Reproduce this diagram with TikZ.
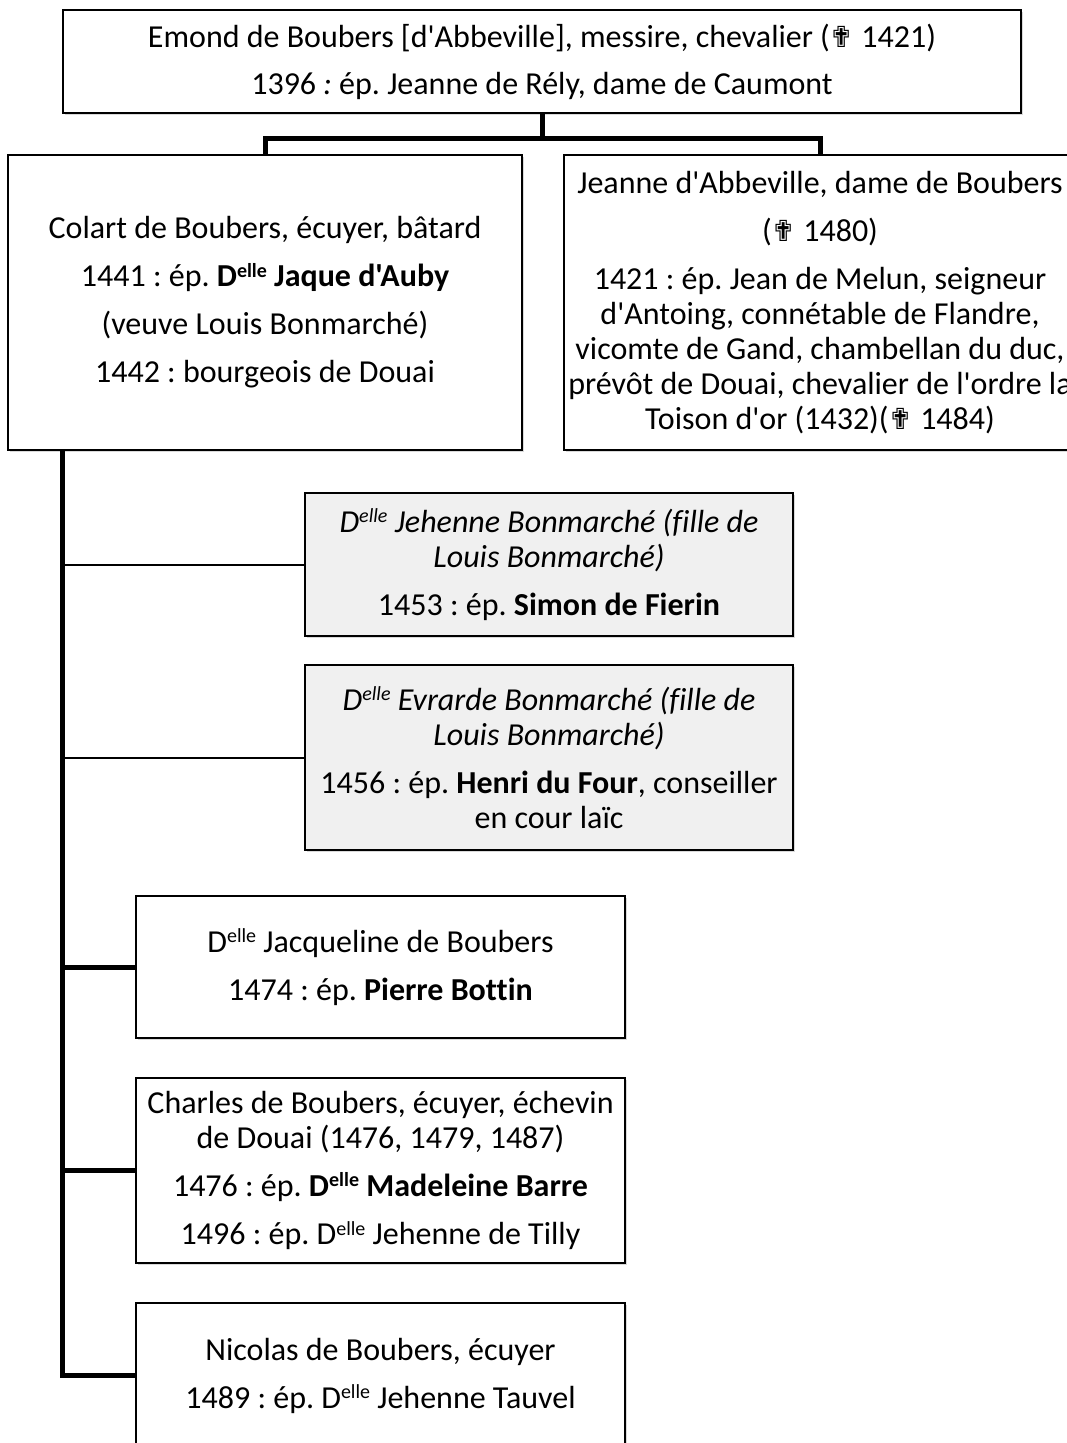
\documentclass[tikz,border=0pt]{standalone}
\usepackage{fontspec}
\usetikzlibrary{shadows}
\newfontfamily\calfont{Carlito}[Ligatures=NoCommon]
\newfontfamily\crossfont{DejaVu Sans}
\newcommand{\croix}{{\crossfont\fontsize{29}{29}\selectfont ✟}}
\newcommand{\Dl}{D\raisebox{.62ex}{\fontsize{20}{20}\selectfont elle}}
\frenchspacing
\tikzset{
  famille/.style={draw, line width=1.3pt, fill=white, align=center, inner sep=0pt,
    font=\calfont\fontsize{32}{35}\selectfont,
    drop shadow={shadow xshift=1.5pt, shadow yshift=-2pt, opacity=.3}},
  alliance/.style={famille, fill=black!6},
  lien/.style={line width=5pt},
  lienfin/.style={line width=2pt}
}
\begin{document}
\begin{tikzpicture}[x=1pt,y=-1pt]
\useasboundingbox (0,0) rectangle (1066,1443);
%boxes
\node[famille, minimum width=958pt, minimum height=103pt] (emond) at (542,61.5)
  {Emond de Boubers [d'Abbeville], messire, chevalier (\croix{} 1421)\\[12pt]
   1396\textit{ :} ép. Jeanne de Rély, dame de Caumont};
\node[famille, minimum width=514pt, minimum height=295pt] (colart) at (265,302.5)
  {Colart de Boubers, écuyer, bâtard\\[13pt]
   1441 : ép. \textbf{\Dl{} Jaque d'Auby}\\[13pt]
   (veuve Louis Bonmarché)\\[13pt]
   1442 : bourgeois de Douai};
\node[famille, minimum width=512pt, minimum height=295pt] (jeanne) at (820,302.5)
  {Jeanne d'Abbeville, dame de Boubers\\[13pt]
   (\croix{} 1480)\\[13pt]
   1421 : ép. Jean de Melun, seigneur\\
   d'Antoing, connétable de Flandre,\\
   vicomte de Gand, chambellan du duc,\\
   prévôt de Douai, chevalier de l'ordre la\\
   Toison d'or (1432)(\croix{} 1484)};
\node[alliance, minimum width=488pt, minimum height=143pt] (jehenne) at (549,564.5)
  {\textit{\Dl{} Jehenne Bonmarché (fille de}\\
   \textit{Louis Bonmarché)}\\[13pt]
   1453 : ép. \textbf{Simon de Fierin}};
\node[alliance, minimum width=488pt, minimum height=185pt] (evrarde) at (549,757.5)
  {\textit{\Dl{} Evrarde Bonmarché (fille de}\\
   \textit{Louis Bonmarché)}\\[13pt]
   1456 : ép. \textbf{Henri du Four}, conseiller\\
   en cour laïc};
\node[famille, minimum width=489pt, minimum height=142pt] (jacqueline) at (380.5,967)
  {\Dl{} Jacqueline de Boubers\\[13pt]
   1474 : ép. \textbf{Pierre Bottin}};
\node[famille, minimum width=489pt, minimum height=185pt] (charles) at (380.5,1170.5)
  {Charles de Boubers, écuyer, échevin\\
   de Douai (1476, 1479, 1487)\\[13pt]
   1476 : ép. \textbf{\Dl{} Madeleine Barre}\\[13pt]
   1496 : ép. \Dl{} Jehenne de Tilly};
\node[famille, minimum width=489pt, minimum height=145pt] (nicolas) at (380.5,1375.5)
  {Nicolas de Boubers, écuyer\\[13pt]
   1489 : ép. \Dl{} Jehenne Tauvel};
%lines
\draw[lien] (emond.south) -- ++(0,25) coordinate (barre);
\draw[lien] (colart.north) |- (barre) -| (jeanne.north);
\coordinate (tronc) at ([xshift=55pt]colart.south west);
\draw[lien] (tronc) |- (nicolas.west);
\foreach \n in {jacqueline,charles}
  \draw[lien] (tronc |- \n.west) -- (\n.west);
\foreach \n in {jehenne,evrarde}
  \draw[lienfin] (tronc |- \n.west) -- (\n.west);
\end{tikzpicture}
\end{document}
